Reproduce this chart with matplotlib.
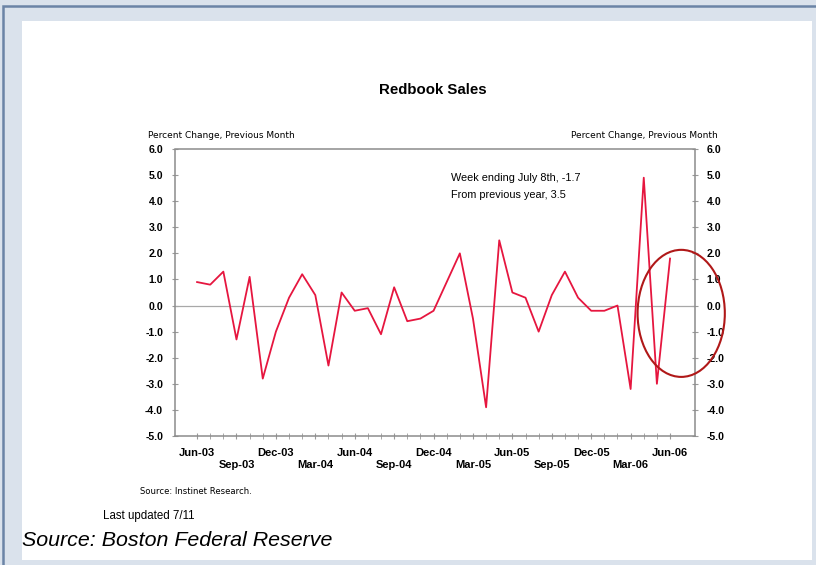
import matplotlib
matplotlib.use("Agg")
import matplotlib.pyplot as plt
from matplotlib.patches import Rectangle, Ellipse

plt.rcParams['font.family'] = ['Liberation Sans', 'DejaVu Sans']

# monthly index 0 = Jun-03 ... 36 = Jun-06
months = ['Jun-03', 'Jul-03', 'Aug-03', 'Sep-03', 'Oct-03', 'Nov-03', 'Dec-03',
          'Jan-04', 'Feb-04', 'Mar-04', 'Apr-04', 'May-04', 'Jun-04', 'Jul-04',
          'Aug-04', 'Sep-04', 'Oct-04', 'Nov-04', 'Dec-04', 'Jan-05', 'Feb-05',
          'Mar-05', 'Apr-05', 'May-05', 'Jun-05', 'Jul-05', 'Aug-05', 'Sep-05',
          'Oct-05', 'Nov-05', 'Dec-05', 'Jan-06', 'Feb-06', 'Mar-06', 'Apr-06',
          'May-06', 'Jun-06']
sales = [0.9, 0.8, 1.3, -1.3, 1.1, -2.8, -1.0, 0.3, 1.2, 0.4, -2.3, 0.5,
         -0.2, -0.1, -1.1, 0.7, -0.6, -0.5, -0.2, 0.9, 2.0, -0.5, -3.9, 2.5,
         0.5, 0.3, -1.0, 0.4, 1.3, 0.3, -0.2, -0.2, 0.0, -3.2, 4.9, -3.0, 1.8]
yticks = [6.0, 5.0, 4.0, 3.0, 2.0, 1.0, 0.0, -1.0, -2.0, -3.0, -4.0, -5.0]

W, H = 816, 565
fig = plt.figure(figsize=(W / 100, H / 100), dpi=100)
fig.patch.set_facecolor('#dae2ec')

# page frame
fig.patches.append(Rectangle((3 / W, -0.1), 1.2, 1 - 6 / H + 0.1, transform=fig.transFigure,
                             facecolor='none', edgecolor='#6b84a6', linewidth=1.8, zorder=-10))
fig.patches.append(Rectangle((22 / W, 1 - 560 / H), (812 - 22) / W, (560 - 21) / H,
                             transform=fig.transFigure, facecolor='white', edgecolor='none',
                             zorder=-9))

ax = fig.add_axes([175 / W, 1 - 436 / H, (695 - 175) / W, (436 - 149) / H])
ax.set_facecolor('white')
x = list(range(len(months)))
ax.plot(x, sales, color='#e6163f', linewidth=1.3, zorder=3)
ax.axhline(0, color='#a8a8a8', linewidth=0.9, zorder=2)

ax.set_xlim(-1.68, 37.9)
ax.set_ylim(-5.0, 6.0)

for s in ax.spines.values():
    s.set_color('#8c8c8c')
    s.set_linestyle((0, (1, 1)))
    s.set_linewidth(1.1)

ax.set_yticks(yticks)
ax.set_yticklabels(['%.1f' % v for v in yticks], fontsize=7.6, fontweight='bold')
ax.tick_params(axis='y', which='both', direction='inout', length=5, color='#9a9a9a',
               left=True, right=True, labelleft=True, labelright=True, pad=6)

ax.set_xticks(x, minor=True)
major = x[::3]
labels = [months[i] if (k % 2 == 0) else '\n' + months[i] for k, i in enumerate(major)]
ax.set_xticks(major)
ax.set_xticklabels(labels, fontsize=8, fontweight='bold', linespacing=1.3)
ax.tick_params(axis='x', which='both', direction='inout', length=5, color='#9a9a9a', pad=6)

# circle around recent readings
ell = Ellipse((36.85, -0.3), 6.64, 4.87, facecolor='none', edgecolor='#b01818',
              linewidth=1.5, clip_on=False, zorder=4)
ax.add_patch(ell)

ax.text(19.3, 4.89, 'Week ending July 8th, -1.7', fontsize=7.8, va='center')
ax.text(19.3, 4.24, 'From previous year, 3.5', fontsize=7.8, va='center')

fig.text(433 / W, 1 - 90 / H, 'Redbook Sales', fontsize=10.8, fontweight='bold',
         ha='center', va='center')
fig.text(148 / W, 1 - 135 / H, 'Percent Change, Previous Month', fontsize=6.5,
         family='DejaVu Sans', ha='left', va='center')
fig.text(718 / W, 1 - 135 / H, 'Percent Change, Previous Month', fontsize=6.5,
         family='DejaVu Sans', ha='right', va='center')
fig.text(140 / W, 1 - 491 / H, 'Source: Instinet Research.', fontsize=6.1,
         family='DejaVu Sans', ha='left', va='center')
fig.text(103 / W, 1 - 516 / H, 'Last updated 7/11', fontsize=8.3,
         ha='left', va='center')
fig.text(22 / W, 1 - 541 / H, 'Source: Boston Federal Reserve', fontsize=15.4,
         style='italic', ha='left', va='center')

fig.savefig('out.png', dpi=100, facecolor=fig.get_facecolor())
